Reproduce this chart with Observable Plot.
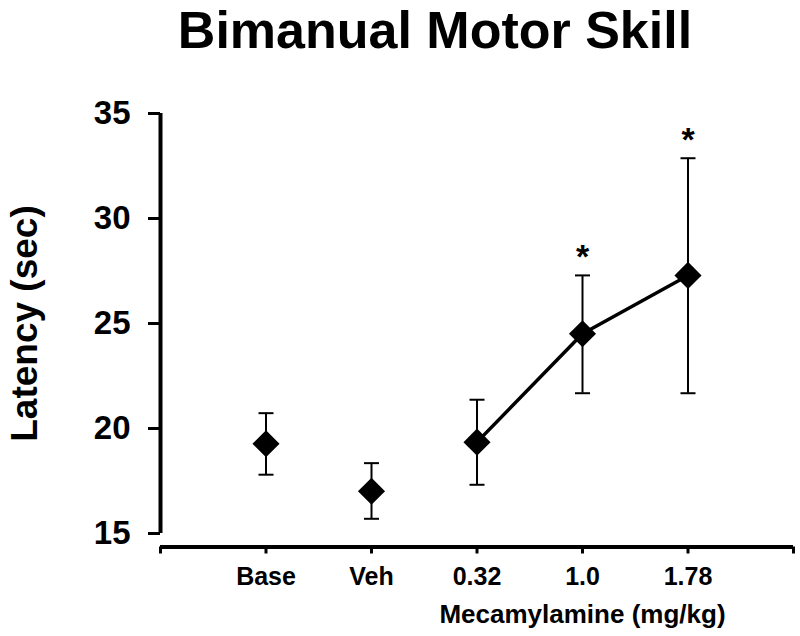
<!DOCTYPE html>
<html>
<head>
<meta charset="utf-8">
<script src="https://cdn.jsdelivr.net/npm/d3@7"></script>
<script src="https://cdn.jsdelivr.net/npm/@observablehq/plot@0.6"></script>
<style>
  html, body { margin: 0; padding: 0; background: #fff; }
  #title {
    width: 800px; height: 70px; line-height: 60px; box-sizing: border-box;
    padding-left: 70px; text-align: center;
    font-family: "Liberation Sans", Arial, sans-serif; font-weight: bold; font-size: 52px; color: #000;
  }
</style>
</head>
<body>
<div id="title">Bimanual Motor Skill</div>
<div id="chart"></div>
<script>
// ---- data ----
const categories = ["Base", "Veh", "0.32", "1.0", "1.78"];
const means      = [19.27, 17.01, 19.35, 24.51, 27.29];
const lower      = [17.80, 15.70, 17.32, 21.68, 21.68];
const upper      = [20.73, 18.35, 21.37, 27.29, 32.87];
const significant = [false, false, false, true, true];
const isDose      = [false, false, true, true, true];
const yTicks = [15, 20, 25, 30, 35];
const yDomain = [15, 35];
const yLabel = "Latency (sec)";
const xLabel = "Mecamylamine (mg/kg)";

const data = categories.map((c, i) => ({
  pos: i + 1, cat: c, mean: means[i], lower: lower[i], upper: upper[i],
  sig: significant[i], dose: isDose[i]
}));
const doses = data.filter(d => d.dose);
const sigs = data.filter(d => d.sig);

const capSymbol = {
  draw(context, size) {
    const w = Math.sqrt(size / Math.PI);
    context.moveTo(-w, 0);
    context.lineTo(w, 0);
  }
};

const font = "'Liberation Sans', Arial, sans-serif";

const chart = Plot.plot({
  width: 800,
  height: 566,
  marginLeft: 160,
  marginRight: 7,
  marginTop: 43,
  marginBottom: 89.5,
  style: { fontFamily: font, color: "#000", background: "#fff" },
  x: { type: "linear", domain: [0, categories.length + 1] },
  y: { domain: yDomain, range: [463, 43] },
  marks: [
    // axis lines
    Plot.ruleX([0], { y1: yDomain[0], y2: yDomain[1], stroke: "#000", strokeWidth: 4 }),
    Plot.ruleY([yDomain[0]], { dy: 13.5, stroke: "#000", strokeWidth: 4 }),
    Plot.axisY({
      ticks: yTicks, tickSize: 12, tickPadding: 18, strokeWidth: 3,
      fontSize: 33, fontWeight: "bold", label: null, tickFormat: d => String(d)
    }),
    Plot.axisX({
      ticks: d3.range(0, categories.length + 2), tickSize: 7, tickPadding: 13, strokeWidth: 3,
      fontSize: 25, fontWeight: "bold", label: null,
      tickFormat: i => categories[i - 1] ?? ""
    }),
    // error bars
    Plot.ruleX(data, { x: "pos", y1: "lower", y2: "upper", stroke: "#000", strokeWidth: 2 }),
    Plot.dot(data, { x: "pos", y: "upper", symbol: capSymbol, r: 7.5, fill: "none", stroke: "#000", strokeWidth: 2 }),
    Plot.dot(data, { x: "pos", y: "lower", symbol: capSymbol, r: 7.5, fill: "none", stroke: "#000", strokeWidth: 2 }),
    // dose-response line
    Plot.line(doses, { x: "pos", y: "mean", stroke: "#000", strokeWidth: 3.5 }),
    // means
    Plot.dot(data, { x: "pos", y: "mean", symbol: "diamond2", r: 12.2, fill: "#000", stroke: "none" }),
    // significance asterisks
    Plot.text(sigs, { x: "pos", y: "upper", text: () => "*", dy: -18, fontSize: 34, fontWeight: "bold", lineAnchor: "middle", fill: "#000" }),
    // axis titles
    Plot.text([yLabel], { frameAnchor: "left", y: () => d3.mean(yDomain), dx: -135.5, rotate: -90,
      fontSize: 37, fontWeight: "bold", lineAnchor: "middle", textAnchor: "middle", fill: "#000" }),
    Plot.text([xLabel], { frameAnchor: "bottom", x: () => d3.mean(doses, d => d.pos), dy: 57.5,
      fontSize: 26, fontWeight: "bold", lineAnchor: "top", textAnchor: "middle", fill: "#000" })
  ]
});
document.getElementById("chart").appendChild(chart);
</script>
</body>
</html>
